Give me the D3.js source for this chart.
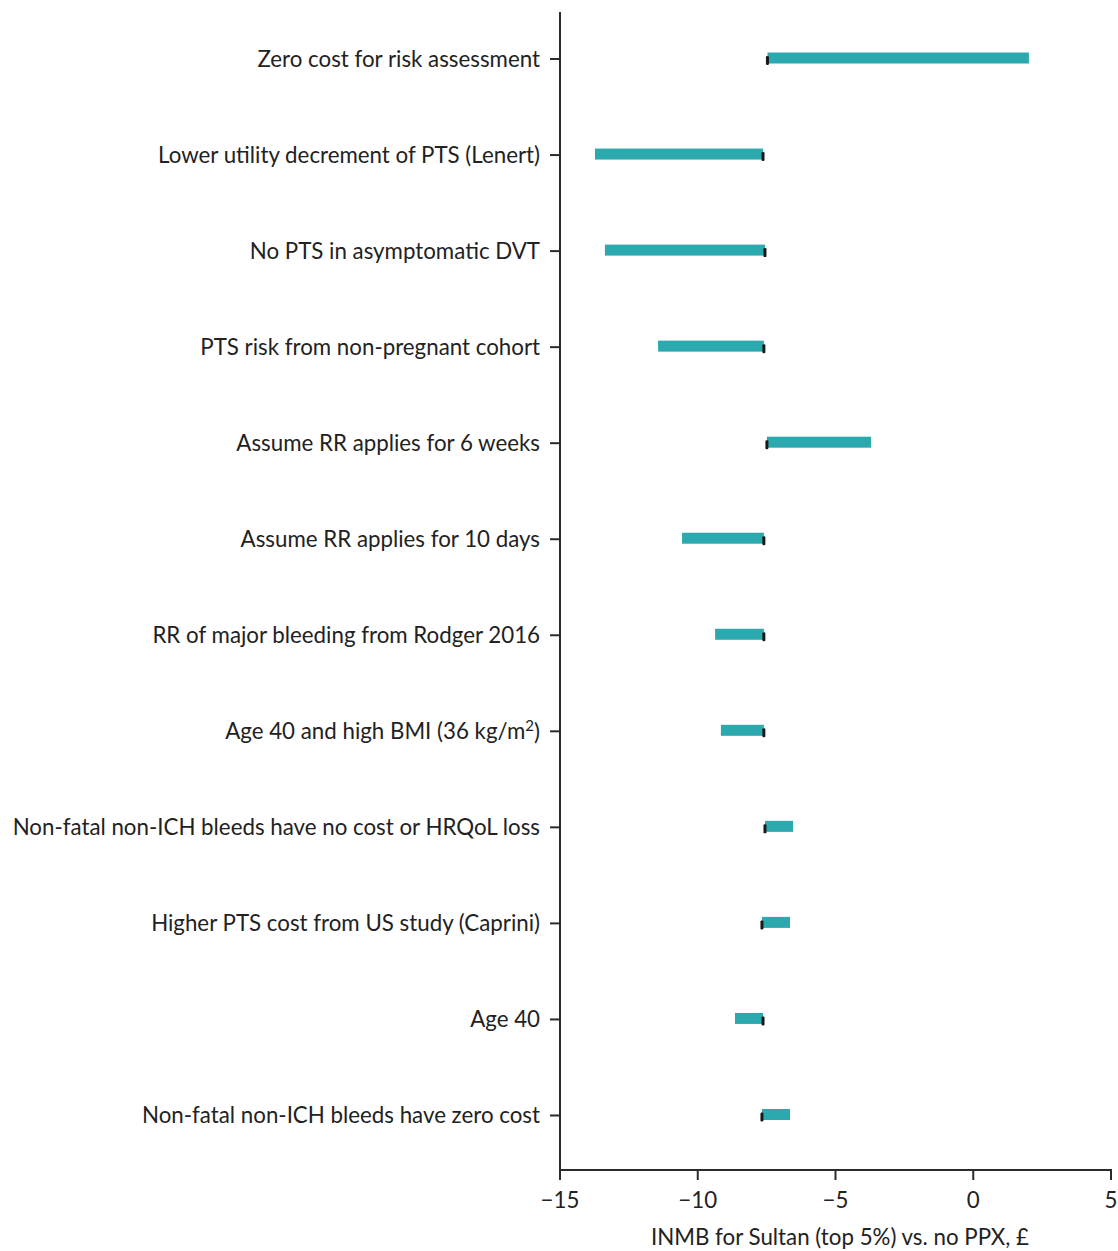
<!DOCTYPE html>
<html>
<head>
<meta charset="utf-8">
<script src="https://cdn.jsdelivr.net/npm/d3@7"></script>
<style>
  html, body { margin: 0; padding: 0; background: #fff; }
  svg { display: block; font-family: Lato, "Open Sans", sans-serif; }
</style>
</head>
<body>
<svg id="chart" width="1118" height="1251"></svg>
<script>
const categories = [
  "Zero cost for risk assessment",
  "Lower utility decrement of PTS (Lenert)",
  "No PTS in asymptomatic DVT",
  "PTS risk from non-pregnant cohort",
  "Assume RR applies for 6 weeks",
  "Assume RR applies for 10 days",
  "RR of major bleeding from Rodger 2016",
  "Age 40 and high BMI (36 kg/m2)",
  "Non-fatal non-ICH bleeds have no cost or HRQoL loss",
  "Higher PTS cost from US study (Caprini)",
  "Age 40",
  "Non-fatal non-ICH bleeds have zero cost"
];
// base-case INMB (marker) and scenario INMB (bar end)
const baseValues = [-7.47, -7.63, -7.56, -7.6, -7.49, -7.6, -7.6, -7.6, -7.56, -7.67, -7.63, -7.67];
const scenarioValues = [2.02, -13.73, -13.37, -11.44, -3.71, -10.57, -9.37, -9.16, -6.54, -6.65, -8.65, -6.65];
const xTicks = [-15, -10, -5, 0, 5];
const xLabel = "INMB for Sultan (top 5%) vs. no PPX, £";

const svg = d3.select("#chart");
const mLeft = 560, mRight = 1111, mTop = 12, mBottom = 1170;

const x = d3.scaleLinear().domain([-15, 5]).range([mLeft, mRight]);
const y = d3.scaleBand().domain(categories).range([11, 1163.5]).paddingInner(0).paddingOuter(0);

const teal = "#2ba9ae";
const axisColor = "#2b2b2b";
const textColor = "#222";
const fs = 22.3;

// bars
const data = categories.map((c, i) => ({ c, base: baseValues[i], val: scenarioValues[i] }));
const barH = 11;
svg.append("g").selectAll("rect").data(data).join("rect")
  .attr("x", d => x(Math.min(d.base, d.val)))
  .attr("width", d => Math.abs(x(d.val) - x(d.base)))
  .attr("y", d => y(d.c) + y.bandwidth() / 2 - barH / 2 - 1)
  .attr("height", barH)
  .attr("fill", teal);

// base markers
svg.append("g").selectAll("rect").data(data).join("rect")
  .attr("x", d => x(d.base) - 1.5)
  .attr("width", 3)
  .attr("y", d => y(d.c) + y.bandwidth() / 2 - 3)
  .attr("height", 9)
  .attr("rx", 1.2)
  .attr("fill", "#1a1a1a");

// y axis
const yAxis = svg.append("g").attr("transform", `translate(${mLeft},0)`);
yAxis.append("line").attr("x1", 0).attr("x2", 0).attr("y1", mTop).attr("y2", mBottom + 1)
  .attr("stroke", axisColor).attr("stroke-width", 2);
const yt = yAxis.selectAll("g.t").data(categories).join("g").attr("class", "t")
  .attr("transform", d => `translate(0,${y(d) + y.bandwidth() / 2})`);
yt.append("line").attr("x1", -10).attr("x2", 0).attr("stroke", axisColor).attr("stroke-width", 2);
yt.append("text")
  .attr("x", -20).attr("dy", "0.35em")
  .attr("text-anchor", "end")
  .attr("font-size", fs)
  .attr("fill", textColor)
  .each(function(d) {
    const t = d3.select(this);
    if (d.endsWith("m2)")) {
      t.append("tspan").text(d.slice(0, -2));
      t.append("tspan").attr("font-size", 15).attr("dy", "-0.55em").text("2");
      t.append("tspan").attr("dy", "0.4em").text(")");
    } else {
      t.text(d);
    }
  });

// x axis
const xAxis = svg.append("g").attr("transform", `translate(0,${mBottom})`);
xAxis.append("line").attr("x1", mLeft - 1).attr("x2", mRight + 1)
  .attr("stroke", axisColor).attr("stroke-width", 2);
const xt = xAxis.selectAll("g.t").data(xTicks).join("g").attr("class", "t")
  .attr("transform", d => `translate(${x(d)},0)`);
xt.append("line").attr("y1", 0).attr("y2", 10).attr("stroke", axisColor).attr("stroke-width", 2);
xt.append("text")
  .attr("y", 38).attr("text-anchor", "middle")
  .attr("font-size", fs).attr("fill", textColor)
  .text(d => d < 0 ? "\u2212" + Math.abs(d) : String(d));

svg.append("text")
  .attr("x", 840).attr("y", 1245)
  .attr("text-anchor", "middle")
  .attr("font-size", fs).attr("fill", textColor)
  .text(xLabel);
</script>
</body>
</html>
